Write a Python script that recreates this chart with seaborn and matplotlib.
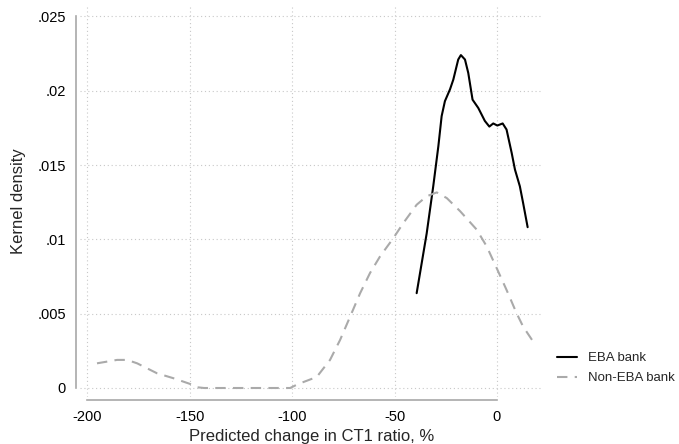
import matplotlib
matplotlib.use("Agg")
import matplotlib.pyplot as plt
import numpy as np
import pandas as pd
import seaborn as sns

# Kernel density of predicted change in CT1 ratio, EBA banks
eba_x = [-39.2, -34.3, -31.1, -28.6, -27.0, -25.4, -22.9, -21.3, -18.9, -17.6,
         -15.6, -14.0, -11.9, -9.1, -5.9, -3.7, -1.8, 0.2, 2.8, 4.7,
         7.2, 8.8, 11.2, 12.8, 15.0]
eba_y = [0.00638, 0.0104, 0.01357, 0.01627, 0.01829, 0.0193, 0.0201, 0.02075, 0.0221, 0.0224,
         0.0221, 0.0212, 0.0194, 0.01884, 0.01797, 0.01759, 0.0178, 0.01766, 0.0178, 0.01739,
         0.01582, 0.0147, 0.01357, 0.01244, 0.01082]

# Kernel density, non-EBA banks
non_x = [-195.3, -185.5, -180.6, -175.7, -166.0, -157.8, -149.8, -146.5, -143.0,
         -120.0, -101.0, -97.0, -88.0, -81.5, -76.6, -71.7, -66.8, -62.0, -57.1,
         -50.6, -45.7, -39.2, -34.3, -29.4, -24.5, -18.0, -9.9, -5.0, -0.1,
         4.7, 9.6, 12.8, 17.7]
non_y = [0.00166, 0.00189, 0.00189, 0.00166, 0.00099, 0.00065, 0.00027, 0.00005, 0.0,
         0.0, 0.0, 0.00027, 0.00074, 0.00189, 0.00323, 0.0048, 0.00638, 0.00773, 0.00885,
         0.01008, 0.0111, 0.01233, 0.0129, 0.01316, 0.01278, 0.0119, 0.01066, 0.00953, 0.00806,
         0.0066, 0.00503, 0.00413, 0.00312]

x_ticks = [-200, -150, -100, -50, 0]
x_tick_labels = ["-200", "-150", "-100", "-50", "0"]
y_ticks = [0, 0.005, 0.01, 0.015, 0.02, 0.025]
y_tick_labels = ["0", ".005", ".01", ".015", ".02", ".025"]

sns.set_style("white")
plt.rcParams["font.family"] = ["Liberation Sans", "DejaVu Sans"]

eba = pd.DataFrame({"x": eba_x, "y": eba_y})
non = pd.DataFrame({"x": non_x, "y": non_y})

W, H = 679, 444
fig = plt.figure(figsize=(W / 100, H / 100), dpi=100)
left, right, top, bottom = 80, 543, 5, 397
ax = fig.add_axes([left / W, 1 - bottom / H, (right - left) / W, (bottom - top) / H])

sns.lineplot(data=eba, x="x", y="y", ax=ax, color="black", lw=1.5,
             label="EBA bank", sort=False)
sns.lineplot(data=non, x="x", y="y", ax=ax, color="#aaaaaa", lw=1.5,
             label="Non-EBA bank", sort=False, dashes=False)
ax.lines[1].set_linestyle((0, (5, 3.5)))

ax.set_xlim(-203.6, 22.5)
ax.set_ylim(-0.000606, 0.02577)

ax.set_xticks(x_ticks)
ax.set_xticklabels(x_tick_labels)
ax.set_yticks(y_ticks)
ax.set_yticklabels(y_tick_labels)

ax.grid(True, color="#c8c8c8", linestyle=(0, (1, 2.5)), linewidth=0.8)

for s in ["top", "right"]:
    ax.spines[s].set_visible(False)
ax.spines["left"].set_bounds(0, 0.025)
ax.spines["left"].set_position(("outward", 3))
ax.spines["bottom"].set_bounds(-200, 0)
ax.spines["bottom"].set_position(("outward", 2))
for s in ["left", "bottom"]:
    ax.spines[s].set_color("#a8a8a8")
    ax.spines[s].set_linewidth(1.2)

ax.tick_params(axis="both", direction="out", length=5, width=1.0, color="#a8a8a8",
               labelsize=10.5, labelcolor="black", pad=2)

ax.set_xlabel("Predicted change in CT1 ratio, %", fontsize=12, labelpad=4)
ax.set_ylabel("Kernel density", fontsize=12, labelpad=8)

ax.legend(loc="upper left", bbox_to_anchor=(557 / W, 1 - 352 / H),
          bbox_transform=fig.transFigure, frameon=False, fontsize=9.5,
          handlelength=1.5, handletextpad=0.85, labelspacing=0.6,
          borderpad=0, borderaxespad=0)

fig.savefig("out.png", dpi=100)
